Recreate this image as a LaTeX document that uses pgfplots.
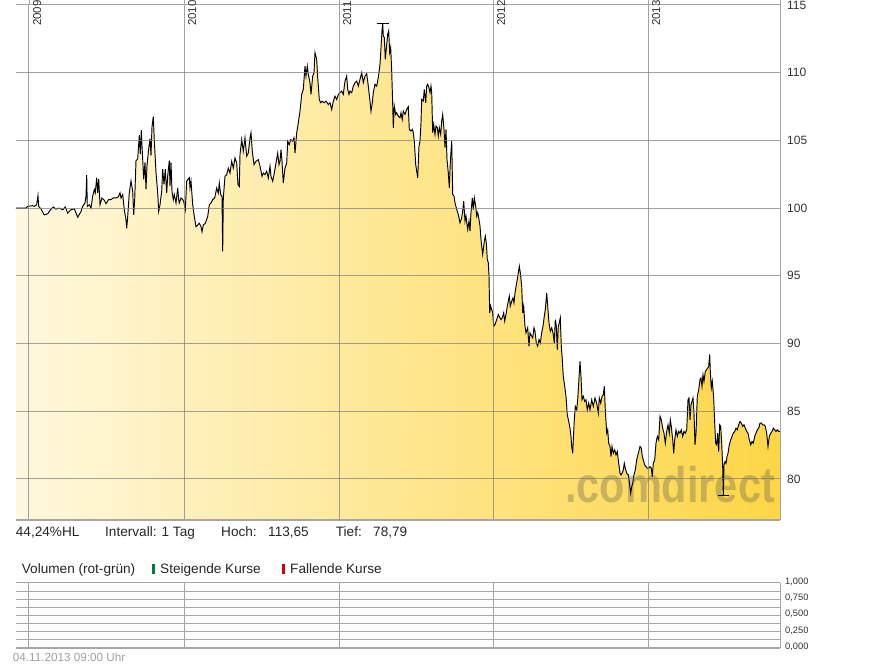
\documentclass[border=0pt]{standalone}
\usepackage{fontspec}
\setmainfont{Liberation Sans}
\usepackage{graphicx}
\usepackage{pgfplots}
\pgfplotsset{compat=1.18}
\usepackage{pgfplotstable}
\definecolor{fillL}{HTML}{FFF8DE}
\definecolor{fillR}{HTML}{FDD645}
\definecolor{gridgray}{HTML}{A6A6A6}
\definecolor{txt}{HTML}{333333}
\definecolor{datetxt}{HTML}{A0A0A0}
\definecolor{upgreen}{HTML}{007A3D}
\definecolor{downred}{HTML}{D00000}
\definecolor{wmark}{HTML}{6E6450}

\pgfplotstableread{
x y
16.0 100.00
26.0 100.00
27.7 100.13
32.7 100.18
34.3 100.13
36.7 100.25
38.0 100.93
38.7 100.13
41.0 99.93
44.3 99.50
47.7 99.58
51.0 99.93
53.3 100.08
56.0 99.93
59.3 100.00
62.7 99.88
65.3 100.08
67.7 99.63
71.0 99.88
74.3 99.95
77.7 99.33
81.0 99.75
82.7 100.13
85.0 100.38
86.0 100.88
86.7 102.43
87.3 100.13
89.3 100.25
91.0 100.00
92.7 100.88
94.3 101.38
95.3 101.13
96.7 102.25
97.7 101.13
98.7 102.13
100.0 100.25
102.0 100.75
104.3 100.58
106.0 100.33
108.7 100.63
111.0 100.63
113.3 100.75
116.0 100.75
118.3 100.83
120.0 101.13
121.0 100.75
122.7 101.00
124.3 99.88
126.0 99.13
126.7 98.50
127.7 99.38
129.3 101.13
131.0 102.00
132.7 101.25
133.7 99.50
134.7 100.63
136.0 103.50
137.7 103.63
139.3 105.38
140.3 104.00
141.3 105.75
142.0 104.63
143.7 102.13
145.0 103.38
146.0 101.38
147.0 103.13
148.7 104.38
150.0 105.13
151.0 103.88
152.0 106.00
153.3 106.75
154.3 105.00
156.0 102.63
157.7 101.13
158.7 99.75
160.0 100.25
161.7 101.25
162.7 102.88
164.0 101.75
165.3 102.88
166.7 101.13
167.7 102.38
169.3 103.50
170.0 101.63
171.0 103.38
172.0 101.25
173.3 100.63
174.3 101.00
176.0 100.38
177.7 101.50
178.7 100.63
179.3 100.38
181.0 100.75
182.7 100.63
183.7 100.50
185.3 99.88
186.7 102.00
188.0 102.13
189.3 102.25
190.0 101.50
191.0 102.00
192.7 100.25
194.3 99.38
196.0 98.63
197.7 98.75
199.3 98.88
201.0 98.63
202.0 98.25
203.3 98.75
205.3 98.88
207.7 99.38
209.3 100.25
211.0 100.38
212.7 100.63
214.7 100.75
216.7 101.48
218.3 101.11
219.3 101.85
220.7 100.99
222.0 100.86
222.7 96.80
223.3 100.74
225.0 102.35
226.7 102.47
228.3 102.96
230.0 102.59
231.7 103.46
233.3 102.96
235.0 103.70
236.7 103.33
238.0 101.73
239.3 101.60
240.0 103.95
241.7 105.06
243.3 104.20
245.0 105.19
246.7 103.83
248.3 104.07
250.0 105.19
251.0 105.56
252.3 104.20
254.0 103.21
256.0 103.46
258.3 103.58
260.0 103.09
262.0 102.35
263.3 102.59
265.0 102.47
266.7 102.72
268.3 102.22
270.0 103.09
271.0 102.35
272.7 101.98
274.0 102.47
276.0 103.33
277.7 104.07
279.0 103.21
280.0 103.46
281.0 104.32
282.0 103.46
283.3 101.85
285.0 102.96
286.7 103.33
287.7 104.94
289.3 104.69
290.7 105.06
292.7 104.94
294.0 105.19
295.0 104.07
296.7 105.56
298.3 106.30
300.0 107.16
301.7 108.40
303.3 108.77
305.0 110.49
306.0 109.75
307.3 110.49
308.3 109.88
310.0 109.26
311.0 108.40
312.7 109.75
314.0 110.00
315.0 111.48
316.7 110.99
317.7 109.63
319.3 108.02
320.7 107.78
322.0 107.90
324.0 107.78
326.0 107.90
328.3 107.65
330.0 107.78
331.7 107.28
333.3 107.90
335.0 108.27
336.7 108.02
338.3 108.40
340.0 108.52
341.7 108.64
343.3 108.40
345.0 109.38
346.7 109.75
347.7 108.77
349.0 108.40
350.0 108.64
351.7 108.52
353.3 109.01
355.0 109.26
356.7 109.38
358.3 109.01
360.0 109.51
361.7 110.00
363.3 109.26
365.0 109.75
366.7 109.93
368.3 109.01
370.0 107.90
371.0 107.16
372.3 107.78
373.3 108.52
375.0 109.14
376.7 109.01
378.3 109.63
380.0 110.62
381.0 111.85
382.0 113.09
382.7 113.65
383.3 112.72
384.3 112.59
385.3 110.99
386.7 112.10
387.7 112.84
388.7 113.09
389.7 111.48
390.7 111.85
391.7 110.12
392.7 107.65
393.3 105.93
394.3 107.53
395.7 106.91
396.7 107.04
398.3 106.79
400.0 106.67
401.0 107.04
402.3 106.55
403.3 107.17
405.0 106.92
406.7 107.29
408.3 107.49
409.3 105.81
411.0 105.69
412.3 105.81
413.3 105.57
414.3 104.95
415.7 103.23
416.7 102.73
417.7 102.24
419.0 104.58
420.0 104.95
421.0 106.31
421.7 108.03
423.3 107.91
424.3 108.77
425.7 107.78
426.7 109.01
427.7 109.14
429.0 108.89
430.0 108.52
431.0 109.01
431.7 108.52
432.7 105.57
433.7 106.18
435.0 105.44
436.0 106.06
437.3 105.94
438.3 105.32
439.3 105.94
440.7 105.44
441.7 106.43
442.7 106.92
444.0 105.81
445.0 104.46
446.0 105.81
447.0 103.60
448.3 102.61
449.3 101.50
450.3 103.35
451.7 104.95
452.7 101.01
454.0 100.89
455.0 100.39
456.7 99.90
458.3 99.53
460.0 98.92
461.7 99.29
462.7 99.78
463.7 100.52
465.0 99.04
466.0 99.41
467.7 98.42
469.0 99.04
470.0 98.30
471.0 99.66
472.3 100.76
473.3 99.90
474.3 100.76
475.7 100.15
476.7 99.41
477.7 99.66
479.0 99.16
480.0 98.67
481.0 97.68
481.7 97.19
482.7 96.58
483.7 97.19
484.3 97.56
485.3 97.93
486.3 97.44
487.3 96.21
488.3 95.96
489.0 94.98
489.7 92.27
490.7 92.76
491.7 92.51
492.7 92.27
493.7 91.28
495.0 91.40
496.7 91.77
498.3 92.14
500.0 91.90
501.0 91.77
502.3 91.90
503.7 92.27
504.7 91.65
506.0 92.14
507.3 92.76
508.3 93.13
509.3 93.50
510.3 92.76
511.7 93.13
513.0 93.37
514.0 93.00
515.0 93.74
516.7 94.48
518.3 95.22
519.3 95.71
520.3 95.22
521.7 94.24
522.7 92.27
523.7 92.76
525.0 91.28
526.0 90.79
527.7 91.16
529.0 89.80
530.0 90.79
531.7 90.54
532.7 90.42
534.0 91.16
535.0 90.91
536.3 90.05
537.7 89.80
539.0 90.30
540.3 90.05
541.7 90.79
543.0 91.28
544.3 92.02
545.3 92.51
546.7 93.74
547.7 92.76
549.0 91.53
550.3 90.91
551.7 91.16
553.0 90.79
554.3 90.05
555.3 91.77
556.3 91.28
557.3 89.56
558.3 91.28
559.3 91.53
560.3 91.90
561.3 89.80
562.3 88.80
563.3 87.58
564.7 86.84
566.0 86.10
567.3 84.74
568.7 84.25
570.0 83.75
571.0 83.14
571.7 82.40
572.7 81.90
573.3 82.89
574.3 84.37
575.3 85.36
576.7 85.11
577.7 85.85
578.7 87.09
580.0 88.69
581.0 87.58
582.0 85.85
583.3 86.10
584.7 85.73
586.0 85.85
587.3 85.11
588.7 85.60
590.0 85.11
591.7 85.85
593.3 85.36
595.0 85.98
596.7 85.60
598.3 84.86
599.3 85.98
600.7 85.60
602.0 86.10
603.3 86.22
604.3 86.84
605.3 85.11
606.7 83.38
607.7 83.63
608.7 82.64
610.0 82.40
611.0 81.65
612.0 82.40
613.3 81.90
614.7 82.15
616.0 81.78
617.3 82.02
618.7 81.16
620.0 80.42
621.0 80.30
622.0 80.42
623.3 80.67
624.3 81.16
625.3 80.79
626.7 80.42
628.3 80.30
629.3 79.80
630.7 78.94
631.7 79.43
632.7 79.68
634.0 80.30
635.3 80.67
636.7 81.41
638.3 81.90
640.0 82.40
641.3 82.27
642.3 81.65
643.3 81.41
644.7 81.04
646.0 80.91
647.3 80.79
648.7 80.79
650.0 80.91
651.3 80.79
652.3 80.17
653.3 81.16
654.7 81.41
656.0 82.64
657.3 83.14
658.7 82.89
660.0 84.62
661.3 84.37
662.7 83.75
664.0 83.38
665.3 82.64
666.7 83.51
668.0 84.00
669.3 83.38
670.3 84.37
671.3 83.88
672.7 82.89
673.7 81.90
674.7 82.89
676.0 83.63
677.3 83.14
678.7 83.51
680.0 83.38
681.3 83.63
682.7 83.14
684.0 83.51
685.3 83.38
686.7 83.63
688.0 85.85
689.0 85.98
690.0 84.37
691.0 85.48
692.0 85.73
693.0 85.98
694.0 84.86
695.0 82.52
696.0 83.38
697.3 86.10
698.7 86.59
700.0 87.33
701.0 87.46
702.0 86.84
703.0 87.70
704.0 87.21
705.3 87.95
706.7 88.07
707.7 88.20
708.7 88.32
709.7 89.19
710.3 87.95
711.3 86.72
712.3 87.21
713.7 85.98
714.7 84.12
715.7 82.64
716.7 82.52
717.7 83.38
718.7 82.02
719.7 84.00
720.7 83.88
721.7 82.64
722.7 80.91
723.3 78.79
724.0 81.04
725.0 81.28
726.0 81.16
727.0 81.65
728.0 81.90
729.3 82.52
730.7 82.89
732.0 83.14
733.3 83.38
734.7 83.51
736.0 83.75
737.3 83.63
738.7 84.00
740.0 84.25
741.3 84.12
742.7 83.88
744.0 84.00
745.3 83.75
746.7 83.51
748.0 83.38
749.3 82.89
750.7 82.52
752.0 82.77
753.3 82.64
754.7 83.14
756.0 83.38
757.3 83.63
758.7 83.75
760.0 84.12
761.3 84.12
762.7 84.00
764.0 84.00
765.3 83.88
766.7 83.38
768.0 82.40
769.3 83.14
770.7 83.38
772.0 83.51
773.3 83.75
774.7 83.63
776.0 83.51
777.3 83.63
778.7 83.51
780.0 83.51
}\pricedata

\begin{document}
\begin{tikzpicture}[x=1pt,y=1pt]
\path[use as bounding box] (0,0) rectangle (895,669);

% ---------- main price axis ----------
\begin{axis}[
  at={(16pt,149pt)}, anchor=south west,
  scale only axis, width=764pt, height=515pt,
  xmin=16, xmax=780, ymin=76.97, ymax=115,
  axis line style={draw=none},
  xtick={29,184,339,493,648}, xticklabels={},
  ytick={80,85,90,95,100,105,110,115},
  yticklabels={80,85,90,95,100,105,110,115},
  yticklabel pos=right,
  major tick length=0pt,
  grid=major,
  grid style={draw=black!50, opacity=0.72, line width=1pt},
  yticklabel style={anchor=west, inner sep=0pt, xshift=7pt,
    font=\fontsize{12}{12}\selectfont, text=txt},
  axis on top,
  clip=true,
]
\addplot[draw=none, left color=fillL, right color=fillR, forget plot]
  table {\pricedata} \closedcycle;
\node[anchor=base, inner sep=0pt, text=wmark, text opacity=0.36,
  font=\fontsize{50}{50}\selectfont\bfseries]
  at (axis cs:670,78.23) {\scalebox{0.83}[1]{.comdirect}};
\addplot[black, line width=0.95pt] table {\pricedata};
\addplot[black, line width=0.9pt] coordinates {(377,113.65) (388.5,113.65)};
\addplot[black, line width=0.9pt] coordinates {(718,78.79) (728.5,78.79)};
\end{axis}

% frame lines of main axis
\draw[gridgray, line width=1pt] (780,149) -- (780,669);
\draw[gridgray, line width=1.6pt] (16,149) -- (780,149);
\foreach \xx in {29,184,339,493,648} {
  \draw[gridgray, line width=1pt] (\xx,664) -- (\xx,669);
}

% year labels
\foreach \xx/\yy in {29/2009,184/2010,339/2011,493/2012,648/2013} {
  \node[rotate=90, anchor=base west, inner sep=0pt, text=txt,
    font=\fontsize{11.5}{11.5}\selectfont] at (\xx+12,643) {\yy};
}

% info line
\begin{scope}[every node/.style={anchor=base west, inner sep=0pt, text=black!85,
    font=\fontsize{13.6}{13.6}\selectfont}]
\node at (15.7,132.5) {44,24\%HL};
\node at (105,132.5) {Intervall: 1 Tag};
\node at (221,132.5) {Hoch:};
\node at (268,132.5) {113,65};
\node at (335.7,132.5) {Tief:};
\node at (373,132.5) {78,79};
\node at (21.7,95.5) {Volumen (rot-grün)};
\node at (160,95.5) {Steigende Kurse};
\node at (290,95.5) {Fallende Kurse};
\end{scope}
\fill[upgreen] (152,95) rectangle (155,105);
\fill[downred] (282,95) rectangle (285,105);

% ---------- volume axis ----------
\begin{axis}[
  at={(16pt,21pt)}, anchor=south west,
  scale only axis, width=764pt, height=65pt,
  xmin=16, xmax=780, ymin=0, ymax=1,
  axis line style={draw=none},
  xtick={29,184,339,493,648}, xticklabels={},
  ytick={0,0.25,0.5,0.75,1},
  yticklabels={{0,000},{0,250},{0,500},{0,750},{1,000}},
  minor ytick={0.125,0.375,0.625,0.875},
  yticklabel pos=right,
  major tick length=0pt, minor tick length=0pt,
  grid=both,
  major grid style={draw=gridgray, line width=1pt},
  minor grid style={draw=gridgray, line width=1pt},
  yticklabel style={anchor=west, inner sep=0pt, xshift=5pt, yshift=1.3pt,
    font=\fontsize{9.3}{9.3}\selectfont, text=txt},
]
\end{axis}
\draw[gridgray, line width=1pt] (780,21) -- (780,86);
\draw[gridgray, line width=2pt] (16,21) -- (780,21);

\node[anchor=base west, inner sep=0pt, text=datetxt,
  font=\fontsize{11.7}{11.7}\selectfont] at (12.7,7.5) {04.11.2013 09:00 Uhr};
\end{tikzpicture}
\end{document}
